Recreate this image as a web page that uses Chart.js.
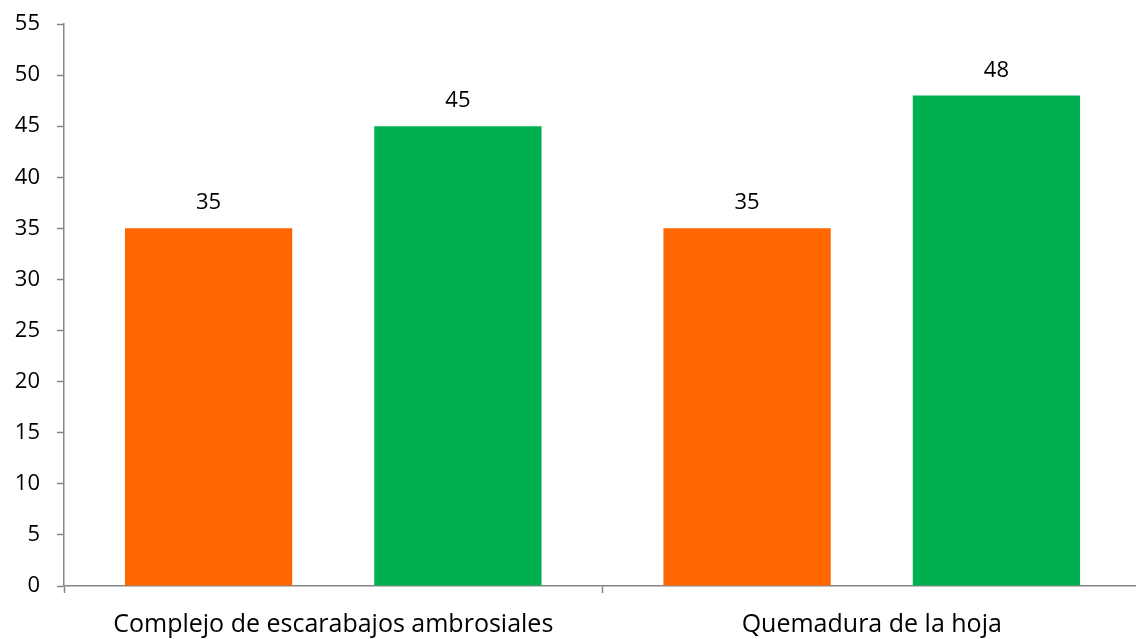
<!DOCTYPE html>
<html>
<head>
<meta charset="utf-8">
<script src="https://cdn.jsdelivr.net/npm/chart.js@4"></script>
<style>
html,body{margin:0;padding:0;background:#fff;overflow:hidden;}
#wrap{width:1141px;height:639px;position:relative;}
</style>
</head>
<body>
<div id="wrap"><canvas id="c"></canvas></div>
<script>
const categories = ["Complejo de escarabajos ambrosiales", "Quemadura de la hoja"];
const seriesOrange = [35, 35];
const seriesGreen = [45, 48];
const yTicks = [0, 5, 10, 15, 20, 25, 30, 35, 40, 45, 50, 55];

const FONT = "'Open Sans', sans-serif";
const AXIS = "#868686";

const valueLabels = {
  id: "valueLabels",
  afterDatasetsDraw(chart) {
    const ctx = chart.ctx;
    ctx.save();
    ctx.font = "22px " + FONT;
    ctx.fillStyle = "#000";
    ctx.textAlign = "center";
    ctx.textBaseline = "alphabetic";
    chart.data.datasets.forEach((ds, i) => {
      chart.getDatasetMeta(i).data.forEach((bar, j) => {
        ctx.fillText(String(ds.data[j]), bar.x, bar.y - 19);
      });
    });
    ctx.restore();
  }
};

new Chart(document.getElementById("c"), {
  type: "bar",
  data: {
    labels: categories,
    datasets: [
      { data: seriesOrange, backgroundColor: "#FF6600", barPercentage: 0.671, categoryPercentage: 0.926 },
      { data: seriesGreen, backgroundColor: "#00B050", barPercentage: 0.671, categoryPercentage: 0.926 }
    ]
  },
  options: {
    responsive: true,
    maintainAspectRatio: false,
    animation: false,
    layout: { padding: { top: 24, right: 0, left: 0, bottom: 0 } },
    plugins: { legend: { display: false }, tooltip: { enabled: false } },
    scales: {
      x: {
        offset: true,
        grid: { display: true, offset: true, drawOnChartArea: false, color: AXIS, tickLength: 7, tickWidth: 1.5 },
        border: { display: true, color: AXIS, width: 1.5 },
        ticks: { color: "#000", font: { family: FONT, size: 25 }, padding: 17, maxRotation: 0 },
        afterFit(s) { s.height = 53; s.paddingLeft = 0; s.paddingRight = 0; }
      },
      y: {
        min: 0, max: 55,
        afterBuildTicks(s) { s.ticks = yTicks.map(v => ({ value: v })); },
        grid: { display: true, drawOnChartArea: false, color: AXIS, tickLength: 7, tickWidth: 1.5 },
        border: { display: true, color: AXIS, width: 1.5 },
        ticks: { color: "#000", font: { family: FONT, size: 22 }, padding: 17 },
        afterFit(s) { s.width = 64; s.paddingTop = 0; s.paddingBottom = 0; }
      }
    }
  },
  plugins: [valueLabels]
});
</script>
</body>
</html>
